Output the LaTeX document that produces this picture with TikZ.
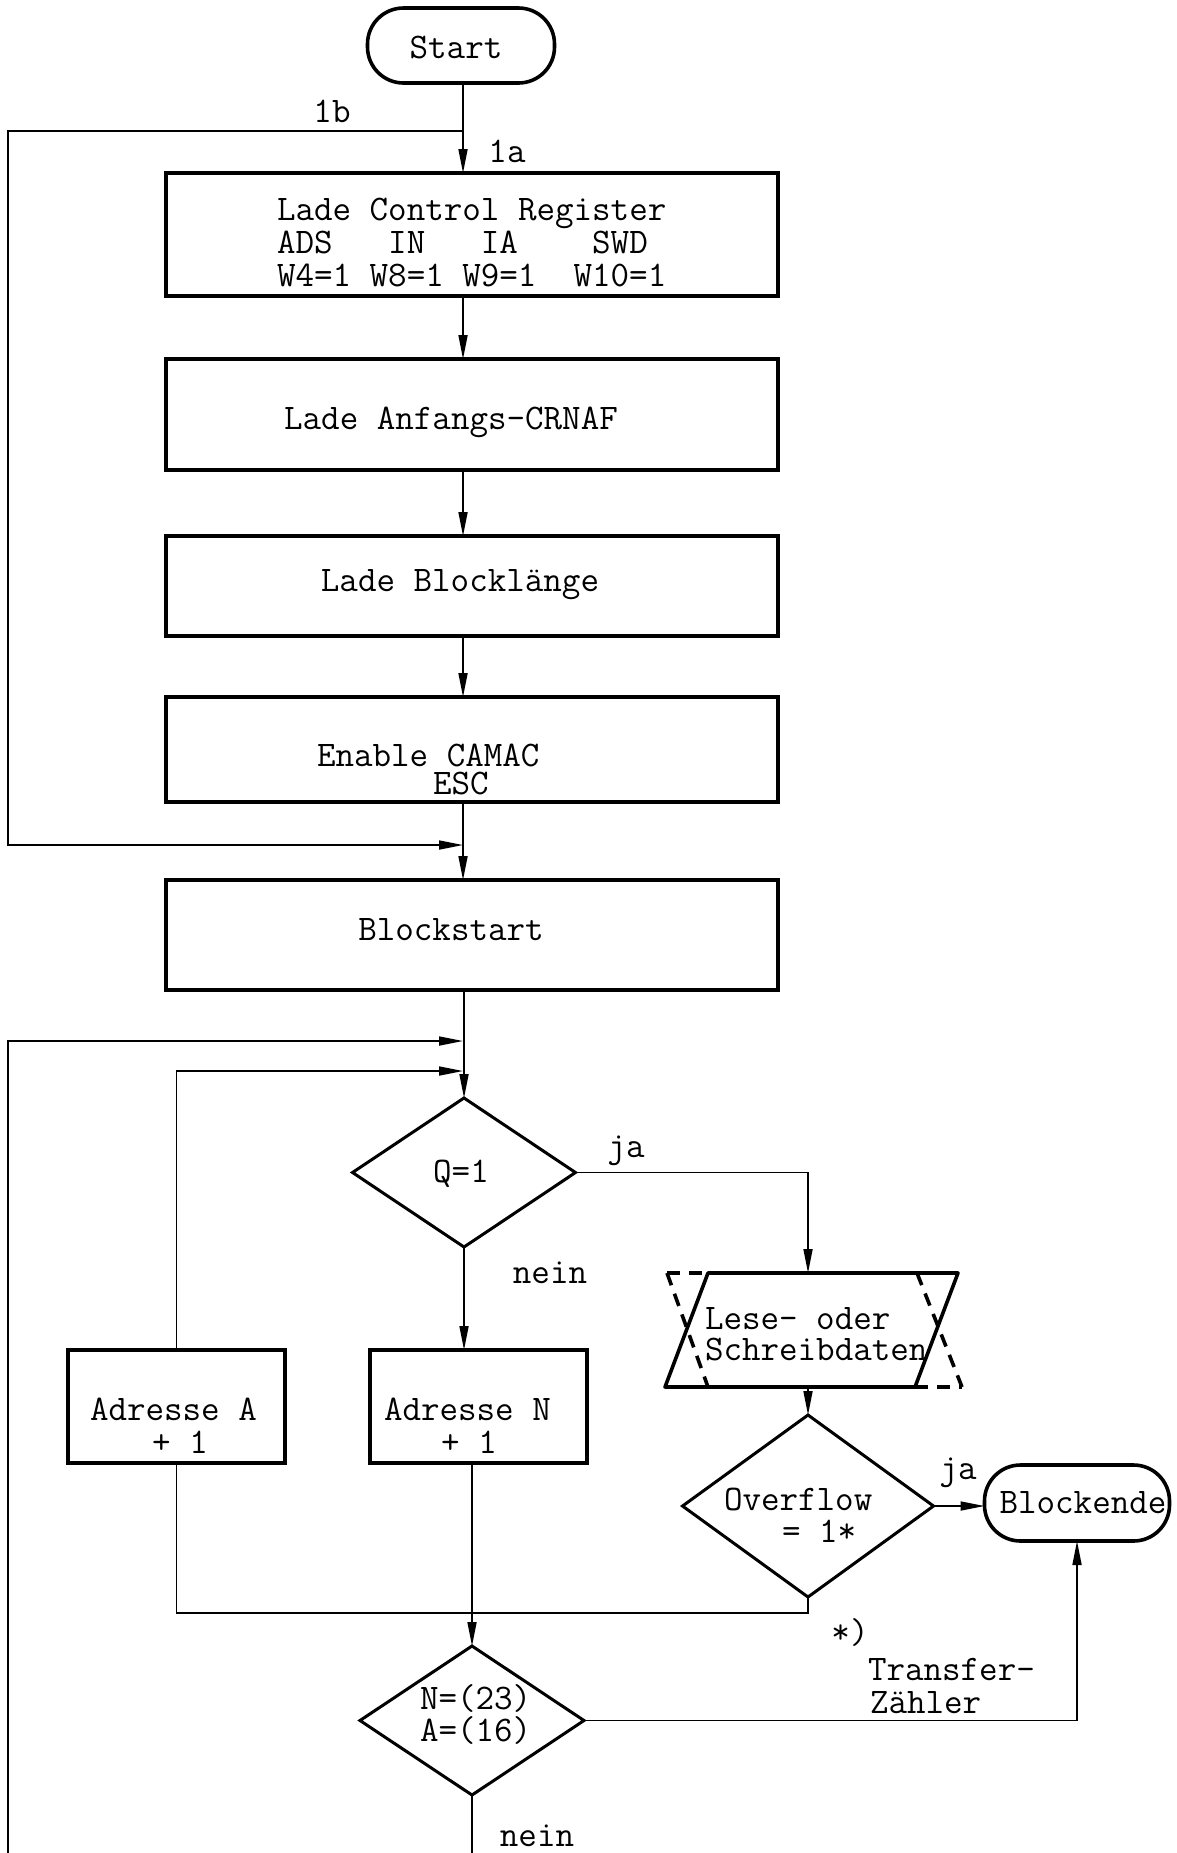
\documentclass[tikz,border=0pt]{standalone}
\usepackage{fontspec}
\usetikzlibrary{arrows.meta,shapes.geometric}
\begin{document}
\begin{tikzpicture}[x=1pt,y=-1pt,
  every node/.style={inner sep=0pt,outer sep=0pt},
  txt/.style={font=\fontsize{36}{33}\selectfont\ttfamily},
  box/.style={draw,line width=3.8pt,minimum width=612pt},
  smallbox/.style={draw,line width=3.8pt,minimum width=217pt,minimum height=113pt},
  term/.style={draw,line width=3.6pt,rounded corners=36pt,minimum width=187pt,minimum height=75pt},
  dia/.style={diamond,draw,line width=3pt},
  flow/.style={line width=1.7pt},
  arr/.style={flow,-{Triangle[length=24pt,width=9pt]}},
  dashedge/.style={line width=3.6pt,dash pattern=on 13pt off 9pt},
]
\fill[white] (0,0) rectangle (1176,1853);
\useasboundingbox (0,0) rectangle (1176,1853);

% ---- shapes ----
\node[term] (start) at (461,45.5) {};
\node[box,minimum height=123pt] (b1) at (472,234.5) {};
\node[box,minimum height=111pt] (b2) at (472,414.5) {};
\node[box,minimum height=100pt] (b3) at (472,586) {};
\node[box,minimum height=105pt] (b4) at (472,749.5) {};
\node[box,minimum height=110pt] (b5) at (472,935) {};
\node[dia,minimum width=223pt,minimum height=149pt] (q) at (464,1172.5) {};
\node[minimum width=297pt,minimum height=114pt] (lese) at (808,1330) {};
\node[smallbox] (adra) at (176.5,1406.5) {};
\node[smallbox] (adrn) at (478.5,1406.5) {};
\node[dia,minimum width=251pt,minimum height=182pt] (ovf) at (808,1506) {};
\node[term,minimum width=185pt,minimum height=76pt] (blk) at (1077,1503) {};
\node[dia,minimum width=224pt,minimum height=149pt] (nd) at (472,1720.5) {};

% read/write data symbol: solid parallelogram with its dashed mirror image
\begin{scope}[shift={(lese.center)}]
  \draw[line width=3.6pt,line join=round] (-100,-57) -- (150,-57) -- (107,57) -- (-143,57) -- cycle;
  \draw[dashedge] (-141,-57) -- (-100,-57);
  \draw[dashedge] (-141,-57) -- (-100,57);
  \draw[dashedge] (109,-57) -- (154,57);
  \draw[dashedge] (107,57) -- (154,57);
\end{scope}

% ---- texts ----
\node[txt,anchor=base] (tstart) at (456,58) {Start};
\node[txt,anchor=base west] (t1a) at (277,220) {Lade Control Register};
\node[txt,anchor=base west] (t1b) at (277,253) {ADS\ \ \ IN\ \ \ IA\ \ \ \ SWD};
\node[txt,anchor=base west] (t1c) at (277,286) {W4=1 W8=1 W9=1\ \ W10=1};
\node[txt,anchor=base] (t2) at (451,429) {Lade Anfangs-CRNAF};
\node[txt,anchor=base] (t3) at (460,591) {Lade Blocklänge};
\node[txt,anchor=base west] (t4a) at (317,766) {Enable CAMAC};
\node[txt,anchor=base west] (t4b) at (433,794) {ESC};
\node[txt,anchor=base] (t5) at (451,940) {Blockstart};
\node[txt,anchor=base] (tq) at (461,1182) {Q=1};
\node[txt,anchor=base west] (tla) at (705,1329) {Lese- oder};
\node[txt,anchor=base west] (tlb) at (705,1360) {Schreibdaten};
\node[txt,anchor=base west] (taa) at (90,1420) {Adresse A};
\node[txt,anchor=base] (tab) at (180,1453) {+ 1};
\node[txt,anchor=base west] (tna) at (384,1420) {Adresse N};
\node[txt,anchor=base] (tnb) at (469,1453) {+ 1};
\node[txt,anchor=base west] (toa) at (724,1510) {Overflow};
\node[txt,anchor=base west] (tob) at (782,1542) {= 1*};
\node[txt,anchor=base] (tblk) at (1083,1513) {Blockende};
\node[txt,anchor=base west] (tda) at (420,1709) {N=(23)};
\node[txt,anchor=base west] (tdb) at (420,1741) {A=(16)};

% ---- branch labels ----
\node[txt,anchor=base] (l1b) at (332,122) {1b};
\node[txt,anchor=base] (l1a) at (507,162) {1a};
\node[txt,anchor=base] (lja1) at (626,1157) {ja};
\node[txt,anchor=base] (lnein1) at (550,1283) {nein};
\node[txt,anchor=base] (lja2) at (958,1479) {ja};
\node[txt,anchor=base] (lstar) at (850,1643) {*)};
\node[txt,anchor=base west] (ltr1) at (868,1680) {Transfer-};
\node[txt,anchor=base west] (ltr2) at (870,1713) {Zähler};
\node[txt,anchor=base] (lnein2) at (537,1846) {nein};

% ---- connectors ----
\coordinate (lft) at (8,0);
\coordinate (bot) at (0,1853);
\coordinate (loop) at (0,1613);
\coordinate (j1) at (463,131);
\coordinate (j2) at (463,845);
\coordinate (j3) at (463,1041);
\coordinate (j4) at (463,1071);

\draw[flow] (start.south -| j1) -- (j1);
\draw[arr] (j1) -- (j1 |- b1.north);
\draw[arr] (j1) -- (j1 -| lft) -- (j2 -| lft) -- (j2);
\draw[arr] (j1 |- b1.south) -- (j1 |- b2.north);
\draw[arr] (j1 |- b2.south) -- (j1 |- b3.north);
\draw[arr] (j1 |- b3.south) -- (j1 |- b4.north);
\draw[arr] (j1 |- b4.south) -- (j1 |- b5.north);
\draw[arr] (q.north |- b5.south) -- (q.north);
\draw[arr] (bot -| lft) -- (j3 -| lft) -- (j3);
\draw[arr] (adra.north) |- (j4);
\draw[arr] (q.east) -| (lese.north);
\draw[arr] (q.south) -- (q.south |- adrn.north);
\draw[arr] (lese.south) -- (ovf.north);
\draw[arr] (ovf.east) -- (ovf.east -| blk.west);
\draw[flow] (ovf.south) -- (ovf.south |- loop) -| (adra.south);
\draw[arr] (adrn.south -| nd.north) -- (nd.north);
\draw[arr] (nd.east) -| (blk.south);
\draw[flow] (nd.south) -- (nd.south |- bot);
\end{tikzpicture}
\end{document}
